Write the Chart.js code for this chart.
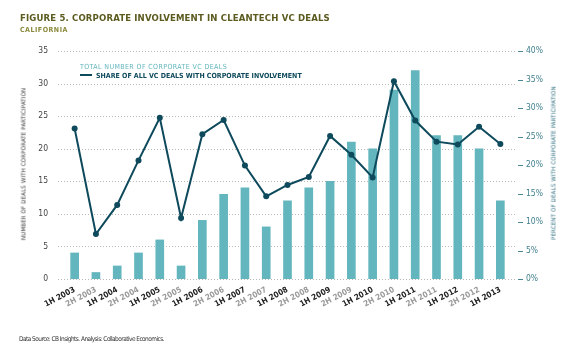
<!DOCTYPE html>
<html>
<head>
<meta charset="utf-8">
<script src="https://cdn.jsdelivr.net/npm/chart.js@4.4.1/dist/chart.umd.min.js"></script>
<style>
  body { margin: 0; background: #fff; }
  #wrap { position: relative; width: 574px; height: 360px; overflow: hidden;
          font-family: "Liberation Sans Narrow", "DejaVu Sans Condensed", sans-serif; }
  #chartBox { position: absolute; left: 0; top: 0; width: 574px; height: 360px; }
  .abs { position: absolute; white-space: nowrap; }
  #title { left: 20px; top: 12px; font-size: 9.5px; font-weight: bold; color: #5b5a1f; letter-spacing: 0.15px; }
  #subtitle { left: 20px; top: 26px; font-size: 7px; font-weight: bold; color: #8c8a3c; letter-spacing: 0.5px; }
  #leg1 { left: 80px; top: 63px; font-size: 7px; color: #63b6be; letter-spacing: 0.4px; }
  #leg2 { left: 80px; top: 72px; font-size: 7px; font-weight: bold; color: #0e4a5c; letter-spacing: 0px; }
  #leg2 span.mark { display: inline-block; width: 12px; height: 2px; background: #0e4a5c; vertical-align: middle; margin-right: 4px; margin-top: -2px; }
  .vtitle { font-size: 6px; letter-spacing: 0.2px; transform: translate(-50%, -50%) rotate(-90deg); }
  #ltitle { left: 23px; top: 164px; color: #333; }
  #rtitle { left: 553px; top: 163px; color: #2e6f80; }
  #source { left: 19px; top: 335px; font-size: 6.5px; color: #333; letter-spacing: -0.55px; }
</style>
</head>
<body>
<div id="wrap">
  <div id="chartBox"><canvas id="myChart"></canvas></div>
  <div class="abs" id="title">FIGURE 5. CORPORATE INVOLVEMENT IN CLEANTECH VC DEALS</div>
  <div class="abs" id="subtitle">CALIFORNIA</div>
  <div class="abs" id="leg1"></div>
  <div class="abs" id="leg2"><span class="mark"></span><span id="leg2txt"></span></div>
  <div class="abs vtitle" id="ltitle">NUMBER OF DEALS WITH CORPORATE PARTICIPATION</div>
  <div class="abs vtitle" id="rtitle">PERCENT OF DEALS WITH CORPORATE PARTICIPATION</div>
  <div class="abs" id="source">Data Source: CB Insights. Analysis: Collaborative Economics.</div>
</div>
<script>
const periods = ['1H 2003','2H 2003','1H 2004','2H 2004','1H 2005','2H 2005','1H 2006','2H 2006',
  '1H 2007','2H 2007','1H 2008','2H 2008','1H 2009','2H 2009','1H 2010','2H 2010',
  '1H 2011','2H 2011','1H 2012','2H 2012','1H 2013'];

const dealCounts = [4, 1, 2, 4, 6, 2, 9, 13, 14, 8, 12, 14, 15, 21, 20, 29, 32, 22, 22, 20, 12];

const sharePct = [26.4, 7.9, 13.0, 20.8, 28.3, 10.7, 25.4, 27.9, 19.9, 14.5, 16.5, 17.9,
  25.1, 21.8, 17.8, 34.7, 27.8, 24.1, 23.6, 26.7, 23.7];

const countTicks = [0, 5, 10, 15, 20, 25, 30, 35];
const pctTicks = [0, 5, 10, 15, 20, 25, 30, 35, 40];

const barName = 'TOTAL NUMBER OF CORPORATE VC DEALS';
const lineName = 'SHARE OF ALL VC DEALS WITH CORPORATE INVOLVEMENT';

document.getElementById('leg1').textContent = barName;
document.getElementById('leg2txt').textContent = lineName;

const FONT = '"Liberation Sans Narrow", "DejaVu Sans Condensed", sans-serif';

// dotted grid lines and the little dashes on the right
const gridPlugin = {
  id: 'dottedGrid',
  beforeDatasetsDraw(chart) {
    const ctx = chart.ctx;
    const y = chart.scales.y;
    const y1 = chart.scales.y1;
    ctx.save();
    ctx.strokeStyle = '#b8b8b8';
    ctx.lineWidth = 1;
    ctx.setLineDash([1, 2]);
    countTicks.forEach(v => {
      const py = Math.round(y.getPixelForValue(v)) + 0.5;
      ctx.beginPath();
      ctx.moveTo(58, py);
      ctx.lineTo(516, py);
      ctx.stroke();
    });
    ctx.setLineDash([]);
    ctx.strokeStyle = '#4a8794';
    pctTicks.forEach(v => {
      const py = Math.round(y1.getPixelForValue(v)) + 0.5;
      ctx.beginPath();
      ctx.moveTo(518, py);
      ctx.lineTo(523, py);
      ctx.stroke();
    });
    ctx.restore();
  }
};

const data = {
  labels: periods,
  datasets: [
    {
      type: 'line',
      label: lineName,
      data: sharePct,
      yAxisID: 'y1',
      borderColor: '#0e4a5c',
      backgroundColor: '#0e4a5c',
      borderWidth: 2,
      pointRadius: 3,
      pointBackgroundColor: '#0e4a5c',
      pointBorderWidth: 0,
      tension: 0,
      order: 0
    },
    {
      type: 'bar',
      label: barName,
      data: dealCounts,
      yAxisID: 'y',
      backgroundColor: '#63b6be',
      barThickness: 8,
      order: 1
    }
  ]
};

const config = {
  data: data,
  plugins: [gridPlugin],
  options: {
    responsive: true,
    maintainAspectRatio: false,
    animation: false,
    layout: { padding: { top: 51, left: 0, right: 0, bottom: 0 } },
    plugins: {
      legend: { display: false },
      title: { display: false },
      tooltip: { enabled: false }
    },
    scales: {
      x: {
        grid: { display: false, drawTicks: false },
        border: { display: false },
        afterFit: s => { s.height = 81; },
        ticks: {
          autoSkip: false,
          minRotation: 28,
          maxRotation: 28,
          padding: 6,
          font: { family: FONT, size: 8, weight: 'bold' },
          color: ctx => ctx.index % 2 === 0 ? '#222' : '#9a9a9a'
        }
      },
      y: {
        position: 'left',
        min: 0,
        max: 35,
        grid: { display: false, drawTicks: false },
        border: { display: false },
        afterFit: s => { s.width = 64; },
        afterBuildTicks: s => { s.ticks = countTicks.map(v => ({ value: v })); },
        ticks: {
          padding: 16,
          font: { family: FONT, size: 8.5 },
          color: '#444'
        }
      },
      y1: {
        position: 'right',
        min: 0,
        max: 40,
        grid: { display: false, drawTicks: false },
        border: { display: false },
        afterFit: s => { s.width = 63; },
        afterBuildTicks: s => { s.ticks = pctTicks.map(v => ({ value: v })); },
        ticks: {
          padding: 15,
          font: { family: FONT, size: 8.5 },
          color: '#3f7f8c',
          callback: v => v + '%'
        }
      }
    }
  }
};

const ctxChart = document.getElementById('myChart').getContext('2d');
const chart = new Chart(ctxChart, config);
</script>
</body>
</html>
